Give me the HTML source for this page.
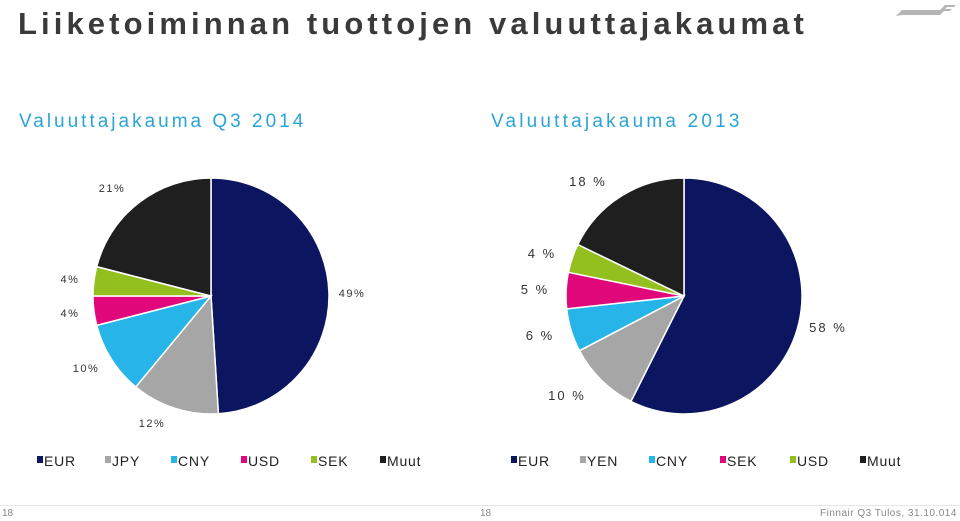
<!DOCTYPE html>
<html><head><meta charset="utf-8"><style>
body{margin:0;width:960px;height:521px;background:#fff;font-family:"Liberation Sans",sans-serif;overflow:hidden;position:relative}
.t{position:absolute;white-space:nowrap}
</style></head><body>
<div class="t" style="left:18px;top:6px;font-size:31px;font-weight:bold;color:#3a3a3a;letter-spacing:4.1px">Liiketoiminnan tuottojen valuuttajakaumat</div>
<svg style="position:absolute;left:890px;top:4px" width="66" height="14"><polygon points="6,12 12,6 50,6 55,1 66,1 64,3 57,3 55,5 62,5 60,7 54,7 50,11 12,11" fill="#b5b5b5"/></svg>
<div class="t" style="left:19px;top:111px;font-size:19px;color:#2aa4d8;letter-spacing:3px">Valuuttajakauma Q3 2014</div>
<div class="t" style="left:491px;top:111px;font-size:19px;color:#2aa4d8;letter-spacing:3.2px">Valuuttajakauma 2013</div>
<svg id="c" width="960" height="521" style="position:absolute;left:0;top:0"></svg>
<div style="position:absolute;left:0;top:505px;width:960px;height:1px;background:#e6e6e6"></div>
<div class="t" style="left:2px;top:508px;font-size:10px;color:#888">18</div>
<div class="t" style="left:480px;top:508px;font-size:10px;color:#888">18</div>
<div class="t" style="left:820px;top:508px;font-size:10px;color:#888;letter-spacing:0.5px">Finnair Q3 Tulos, 31.10.014</div>
<script>
const cats1=["EUR","JPY","CNY","USD","SEK","Muut"];
const vals1=[49,12,10,4,4,21];
const labels1=["49%","12%","10%","4%","4%","21%"];
const cats2=["EUR","YEN","CNY","SEK","USD","Muut"];
const vals2=[58,10,6,5,4,18];
const labels2=["58 %","10 %","6 %","5 %","4 %","18 %"];
const colors1=["#0c1560","#a6a6a6","#27b4e8","#e0087a","#93c01f","#1f1f1f"];
const colors2=["#0c1560","#a6a6a6","#27b4e8","#e0087a","#93c01f","#1f1f1f"];
const NS="http://www.w3.org/2000/svg";
const svg=document.getElementById('c');
const lab1Pos=[[352,297],[152,427],[86,372],[70,317],[70,283],[112,192]];
const lab2Pos=[[828,332],[567,400],[540,340],[535,294],[542,258],[588,186]];
function pie(cx,cy,r,vals,cols,labels,lp,cats,pre){
  const tot=vals.reduce((a,b)=>a+b,0);let a=0;
  vals.forEach((v,i)=>{
    const a0=a/tot*2*Math.PI,a1=(a+v)/tot*2*Math.PI;a+=v;
    const x0=cx+r*Math.sin(a0),y0=cy-r*Math.cos(a0),x1=cx+r*Math.sin(a1),y1=cy-r*Math.cos(a1);
    const p=document.createElementNS(NS,'path');
    p.setAttribute('d',`M${cx},${cy}L${x0},${y0}A${r},${r} 0 ${a1-a0>Math.PI?1:0} 1 ${x1},${y1}Z`);
    p.setAttribute('fill',cols[i]);p.setAttribute('stroke','#fff');p.setAttribute('stroke-width','1.5');
    
    
    svg.appendChild(p);
    const t=document.createElementNS(NS,'text');
    t.setAttribute('x',lp[i][0]);t.setAttribute('y',lp[i][1]);t.setAttribute('text-anchor','middle');
    t.setAttribute('font-size', pre==='pie2'?'13':'11');t.setAttribute('letter-spacing', pre==='pie2'?'2':'1.5');t.setAttribute('fill','#333');
    t.textContent=labels[i];
    
    
    svg.appendChild(t);
  });
}
pie(211,296,118,vals1,colors1,labels1,lab1Pos,cats1,'pie1');
pie(684,296,118,vals2,colors2,labels2,lab2Pos,cats2,'pie2');
function legend(x0,cats,cols,pre){
  let x=x0;
  const widths=pre==='pie1'?[68,66,70,70,69,60]:[69,69,71,70,70,60];
  cats.forEach((c,i)=>{
    const g=document.createElementNS(NS,'g');
    
    
    const r=document.createElementNS(NS,'rect');
    r.setAttribute('x',x);r.setAttribute('y',456);r.setAttribute('width',6);r.setAttribute('height',7);r.setAttribute('fill',cols[i]);
    const t=document.createElementNS(NS,'text');
    t.setAttribute('x',x+7);t.setAttribute('y',466);t.setAttribute('font-size','14');t.setAttribute('letter-spacing','0.8');t.setAttribute('fill','#222');
    t.textContent=c;
    g.appendChild(r);g.appendChild(t);svg.appendChild(g);
    x+=widths[i];
  });
}
legend(37,cats1,colors1,'pie1');
legend(511,cats2,colors2,'pie2');
</script>
</body></html>
